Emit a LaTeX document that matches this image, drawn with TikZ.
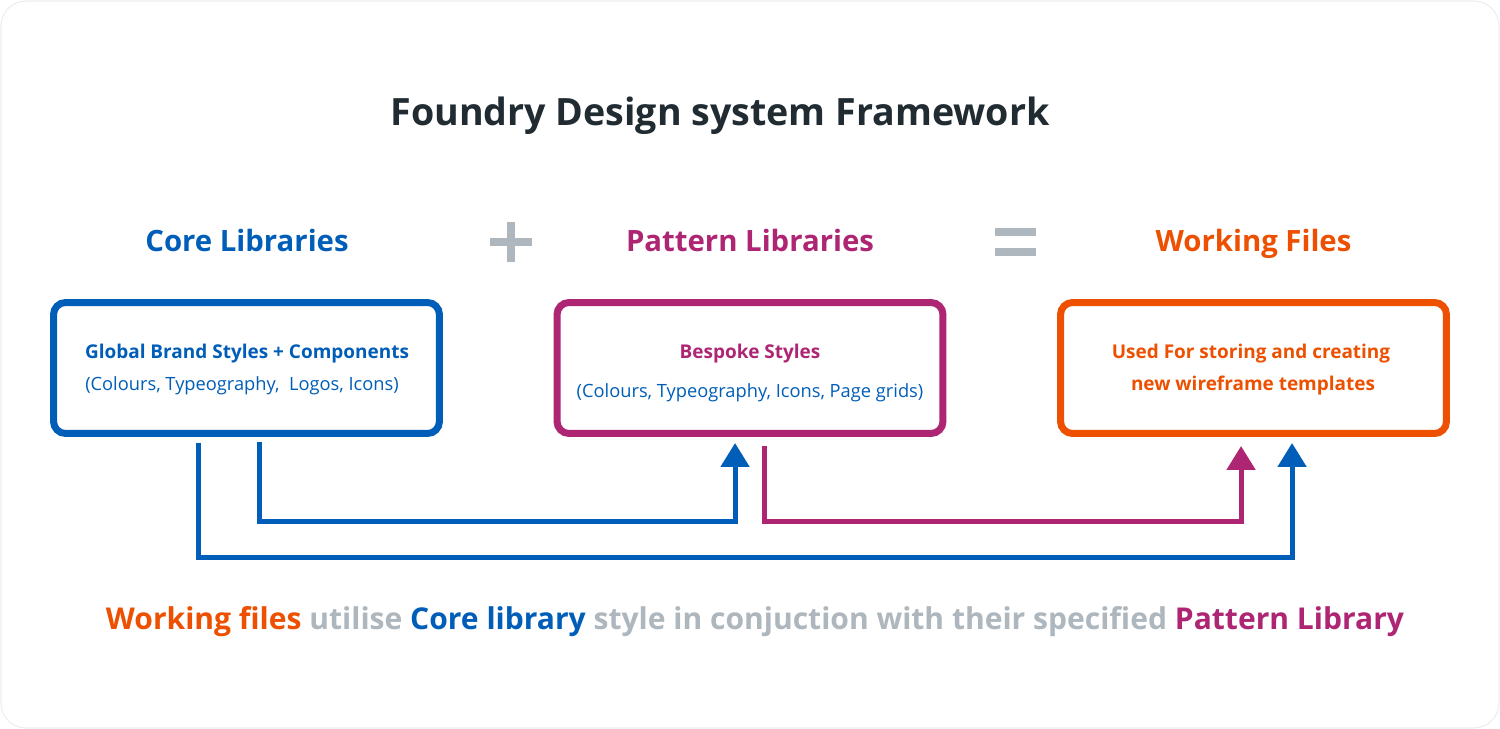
\documentclass[tikz,border=0pt]{standalone}
\usepackage{fontspec}
\setmainfont{Open Sans}
\usetikzlibrary{arrows.meta,calc}
\definecolor{nhsblue}{HTML}{005EB8}
\definecolor{nhspink}{HTML}{AE2573}
\definecolor{nhsorange}{HTML}{EC5000}
\definecolor{nhsgrey}{HTML}{AEB7BD}
\definecolor{nhstext}{HTML}{212B32}
\definecolor{bgline}{HTML}{EDEDED}
\begin{document}
\begin{tikzpicture}[x=0.02cm,y=-0.02cm,
  box/.style={draw, line width=0.14cm, rounded corners=0.24cm, minimum width=7.72cm, minimum height=2.62cm, outer sep=0pt, inner sep=0pt, fill=white},
  conn/.style={line width=0.1cm, -{Triangle[length=0.48cm 0, width=0.56cm 0]}},
  titletext/.style={font=\fontsize{21.4}{26}\selectfont\bfseries, text=nhstext, anchor=base, inner sep=0pt},
  headtext/.style={font=\fontsize{16.7}{20}\selectfont\bfseries, anchor=base, inner sep=0pt},
  boldline/.style={font=\fontsize{10.8}{13}\selectfont\bfseries, anchor=base, inner sep=0pt},
  plainline/.style={font=\fontsize{10.4}{13}\selectfont, anchor=base, inner sep=0pt, text=nhsblue},
  bottomtext/.style={font=\fontsize{17.1}{20}\selectfont\bfseries, anchor=base, inner sep=0pt, text=nhsgrey},
  symbar/.style={fill=nhsgrey, draw=none}
]
\useasboundingbox (0,0) rectangle (1500,729);
\draw[bgline, line width=0.6pt, rounded corners=0.5cm, fill=white] (1,1) rectangle (1499,728);

% title
\node[titletext] (title) at (720,126) {Foundry Design system Framework};

% headers
\node[headtext, text=nhsblue] (hcore) at (247,252) {Core Libraries};
\node[headtext, text=nhspink] (hpattern) at (750,252) {Pattern Libraries};
\node[headtext, text=nhsorange] (hwork) at (1253.5,252) {Working Files};

% plus and equals
\fill[symbar] (490,238) rectangle (532,246);
\fill[symbar] (507,222) rectangle (515,262);
\fill[symbar] (995,228) rectangle (1036,236);
\fill[symbar] (995,248) rectangle (1036,256);

% boxes
\node[box, draw=nhsblue] (box1) at (246.5,368) {};
\node[box, draw=nhspink] (box2) at (750,368) {};
\node[box, draw=nhsorange] (box3) at (1253.5,368) {};

% box texts
\node[boldline, text=nhsblue] (b1a) at (247,358) {Global Brand Styles + Components};
\node[plainline] (b1b) at (242,390) {(Colours, Typeography,\ \ Logos, Icons)};
\node[boldline, text=nhspink] (b2a) at (750,358) {Bespoke Styles};
\node[plainline] (b2b) at (750,397) {(Colours, Typeography, Icons, Page grids)};
\node[boldline, text=nhsorange] (b3a) at (1251,358) {Used For storing and creating};
\node[boldline, text=nhsorange] (b3b) at (1253,390) {new wireframe templates};

% connectors
\draw[conn, nhsblue] ($(box1.south west)+(144.5,9.5)$) -- ++(0,115) -| ($(box3.south west)+(231.5,9.5)$);
\draw[conn, nhsblue] ($(box1.south west)+(205.5,8.5)$) -- ++(0,80) -| ($(box2.south west)+(178,9.5)$);
\draw[conn, nhspink] ($(box2.south west)+(207.5,12.5)$) -- ++(0,76) -| ($(box3.south west)+(180.5,12.5)$);

% bottom sentence
\node[bottomtext] (summary) at (755,629) {\textcolor{nhsorange}{Working files} utilise \textcolor{nhsblue}{Core library} style in conjuction with their specified \textcolor{nhspink}{Pattern Library}};
\end{tikzpicture}
\end{document}
